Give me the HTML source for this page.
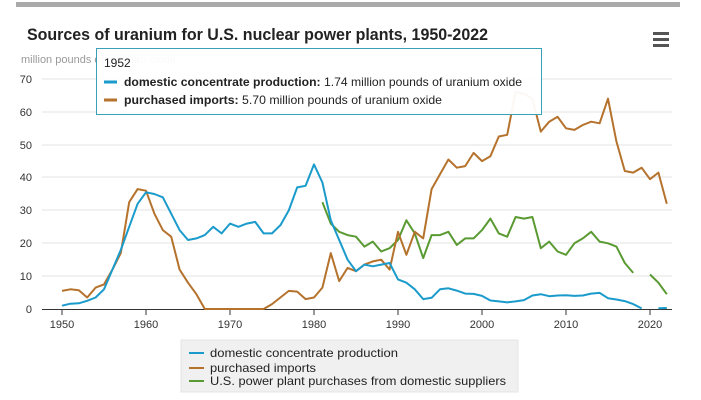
<!DOCTYPE html>
<html><head><meta charset="utf-8"><style>
body{margin:0;background:#fff;width:701px;height:400px;overflow:hidden;font-family:"Liberation Sans",sans-serif}
svg{position:absolute;left:0;top:0}
</style></head><body>
<svg width="701" height="400" id="s" font-family="Liberation Sans, sans-serif">
<rect x="16" y="2" width="664" height="5" fill="#aaa"/>
<text x="27" y="40" font-size="16.5" font-weight="bold" fill="#222" textLength="461" lengthAdjust="spacingAndGlyphs">Sources of uranium for U.S. nuclear power plants, 1950-2022</text>
<rect x="653" y="32" width="16" height="3" fill="#555"/><rect x="653" y="38" width="16" height="3" fill="#555"/><rect x="653" y="44" width="16" height="3" fill="#555"/>
<text x="21" y="63" font-size="11" fill="#999">million pounds of uranium oxide</text>
<g stroke="#e3e3e3" stroke-width="1">
<line x1="42" x2="672" y1="79" y2="79"/><line x1="42" x2="672" y1="112" y2="112"/><line x1="42" x2="672" y1="145" y2="145"/><line x1="42" x2="672" y1="177" y2="177"/><line x1="42" x2="672" y1="210" y2="210"/><line x1="42" x2="672" y1="243" y2="243"/><line x1="42" x2="672" y1="276" y2="276"/>
</g>
<line x1="42" x2="672" y1="309.5" y2="309.5" stroke="#333"/>
<g font-size="11" fill="#333" text-anchor="end">
<text x="32" y="83">70</text><text x="32" y="116">60</text><text x="32" y="149">50</text><text x="32" y="181">40</text><text x="32" y="214">30</text><text x="32" y="247">20</text><text x="32" y="280">10</text><text x="32" y="313">0</text>
</g>
<g id="xt" font-size="11" fill="#333" text-anchor="middle"></g>
<g id="ser" fill="none" stroke-width="2" stroke-linejoin="round"></g>
<rect x="181" y="340" width="337" height="52" fill="#f0f0f0" stroke="#e4e4e4"/>
<g font-size="12" fill="#222">
<line x1="189" x2="204" y1="353" y2="353" stroke="#1a9bcb" stroke-width="2"/><text x="210" y="357" textLength="188" lengthAdjust="spacingAndGlyphs">domestic concentrate production</text>
<line x1="189" x2="204" y1="368" y2="368" stroke="#b5722c" stroke-width="2"/><text x="210" y="372" textLength="106" lengthAdjust="spacingAndGlyphs">purchased imports</text>
<line x1="189" x2="204" y1="381" y2="381" stroke="#5a9a32" stroke-width="2"/><text x="210" y="385" textLength="296" lengthAdjust="spacingAndGlyphs">U.S. power plant purchases from domestic suppliers</text>
</g>
<rect x="96.5" y="48.5" width="445" height="66" fill="#fff" fill-opacity="0.95" stroke="#3aa0b8"/>
<g font-size="12" fill="#222">
<text x="104" y="67" font-size="12">1952</text>
<line x1="104" x2="117" y1="82" y2="82" stroke="#1a9bcb" stroke-width="3"/>
<text x="124" y="86" textLength="398" lengthAdjust="spacingAndGlyphs"><tspan font-weight="bold">domestic concentrate production:</tspan> 1.74 million pounds of uranium oxide</text>
<line x1="104" x2="117" y1="100" y2="100" stroke="#b5722c" stroke-width="3"/>
<text x="124" y="104" textLength="318" lengthAdjust="spacingAndGlyphs"><tspan font-weight="bold">purchased imports:</tspan> 5.70 million pounds of uranium oxide</text>
</g>
</svg>
<script>
var X=y=>62+(y-1950)*8.4,Y=v=>309-v*3.286,NS="http://www.w3.org/2000/svg";
var xt=document.getElementById('xt');
for(var y=1950;y<=2020;y+=10){var t=document.createElementNS(NS,'text');t.setAttribute('x',X(y));t.setAttribute('y',328);t.textContent=y;xt.appendChild(t);
var l=document.createElementNS(NS,'line');l.setAttribute('x1',X(y));l.setAttribute('x2',X(y));l.setAttribute('y1',309);l.setAttribute('y2',315);l.setAttribute('stroke','#333');xt.appendChild(l);}
var blue=[1,1.6,1.74,2.5,3.5,6,12,18,25,32,35.5,35,34,29,24,21,21.5,22.5,25,23,26,25,26,26.5,23,23,25.5,30,37,37.5,44,38.5,27,21,15,11.5,13.5,13,13.5,14,9,8,6,3,3.4,6,6.3,5.6,4.7,4.6,4,2.6,2.3,2,2.3,2.7,4.1,4.5,3.9,4.1,4.2,4,4.1,4.7,4.9,3.3,2.9,2.4,1.5,0.17,null,0.2,0.3];
var brown=[5.5,6,5.7,3.5,6.5,7.5,12,17,32.5,36.5,36,29,24,22,12,8,4.5,0,0,0,0,0,0,0,0,1.5,3.5,5.5,5.3,3,3.5,6.5,17,8.5,12.5,11.5,13.5,14.5,15,12,23.5,16.5,23.5,21.5,36.5,41,45.5,43,43.5,47.5,45,46.5,52.5,53,66,65.5,64,54,57,58.5,55,54.5,56,57,56.5,64,51,42,41.5,43,39.5,41.5,32];
var green=[32.5,26,23.5,22.5,22,19,20.5,17.5,18.5,21,27,23,15.5,22.5,22.5,23.5,19.5,21.5,21.5,24,27.5,23,22,28,27.5,28,18.5,20.5,17.5,16.5,20,21.5,23.5,20.5,20,19,14,11,null,10.5,8,4.5];
function draw(a,s,c){var d='',m=true;a.forEach((v,i)=>{if(v==null){m=true;return;}d+=(m?'M':'L')+X(s+i).toFixed(1)+','+Y(v).toFixed(1);m=false;});
var p=document.createElementNS(NS,'path');p.setAttribute('d',d);p.setAttribute('stroke',c);document.getElementById('ser').appendChild(p);}
draw(green,1981,'#5a9a32');draw(brown,1950,'#b5722c');draw(blue,1950,'#1a9bcb');
</script>
</body></html>
